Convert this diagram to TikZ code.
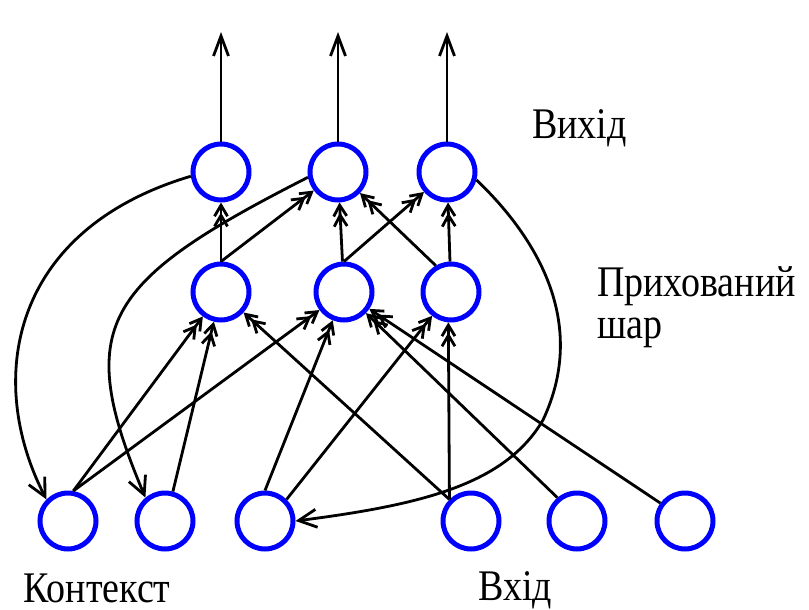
\documentclass[tikz,border=0pt]{standalone}
\usepackage{fontspec}
\setmainfont{Liberation Serif}
\usetikzlibrary{arrows.meta}
\definecolor{nblue}{RGB}{0,0,255}
\newcommand{\tallt}[1]{\scalebox{1}[1.15]{#1}}
\begin{document}
\begin{tikzpicture}[x=1pt,y=-1pt,
  neuron/.style={circle,draw=nblue,line width=5pt,minimum size=56pt,inner sep=0pt},
  link/.style={line width=2.8pt,draw=black},
  toparrow/.style={link,-{Straight Barb[length=20pt,width=15pt]}},
  sarrow/.style={link,-{Straight Barb[length=18pt,width=18pt]}},
  darrow/.style={link,-{Straight Barb[length=11pt,width=13pt,sep=-5pt]Straight Barb[length=11pt,width=13pt]}},
  lbl/.style={font=\fontsize{38}{40}\selectfont,inner sep=0pt,anchor=base west}]
\useasboundingbox (0,0) rectangle (809,610);
\fill[white] (0,0) rectangle (809,610);
% neurons
\node[neuron] (O1) at (221,172) {};
\node[neuron] (O2) at (338,172) {};
\node[neuron] (O3) at (447,172) {};
\node[neuron] (H1) at (221,292) {};
\node[neuron] (H2) at (344,292) {};
\node[neuron] (H3) at (451,292) {};
\node[neuron] (C1) at (68,521) {};
\node[neuron] (C2) at (165,521) {};
\node[neuron] (C3) at (265,521) {};
\node[neuron] (I1) at (471,521) {};
\node[neuron] (I2) at (577,521) {};
\node[neuron] (I3) at (685,521) {};
\coordinate (T1) at (221,32);
\coordinate (T2) at (338,32);
\coordinate (T3) at (447,32);
% outputs
\draw[toparrow] (O1) -- (T1);
\draw[toparrow] (O2) -- (T2);
\draw[toparrow] (O3) -- (T3);
% hidden -> output
\draw[darrow] (H1) -- (O1);
\draw[darrow] (H2) -- (O2);
\draw[darrow] (H3) -- (O3);
\draw[darrow] (H1.north) -- (O2);
\draw[darrow] (H2.north) -- (O3);
\draw[darrow] (H3.120) -- (O2);
% context -> hidden
\draw[darrow] (C1.80) -- (H1);
\draw[darrow] (C1.80) -- (H2);
\draw[darrow] (C2.75) -- (H1);
\draw[darrow] (C3.north) -- (H2);
\draw[darrow] (C3.45) -- (H3);
% input -> hidden
\draw[darrow] (I1.135) -- (H1);
\draw[darrow] (I1.135) -- (H3.265);
\draw[darrow] (I2.130) -- (H2);
\draw[darrow] (I3.144) -- (H2);
% output -> context (recurrent copies)
\draw[sarrow] (O1.188) .. controls (10,230) and (-15,380) .. (C1.135);
\draw[sarrow] (O2.190) .. controls (102,282) and (73,326) .. (C2.130);
\draw[sarrow] (O3.-15) .. controls (533,234) and (590,320) .. (543,420)
   .. controls (505,485) and (420,505) .. (C3.east);
% labels
\node[lbl] (lout) at (532,138) {\tallt{Вихід}};
\node[lbl] (lhid1) at (597,296) {\tallt{Прихований}};
\node[lbl] (lhid2) at (597,338) {\tallt{шар}};
\node[lbl] (lctx) at (23,602) {\tallt{Контекст}};
\node[lbl] (lin) at (478,600) {\tallt{Вхід}};
\end{tikzpicture}
\end{document}
